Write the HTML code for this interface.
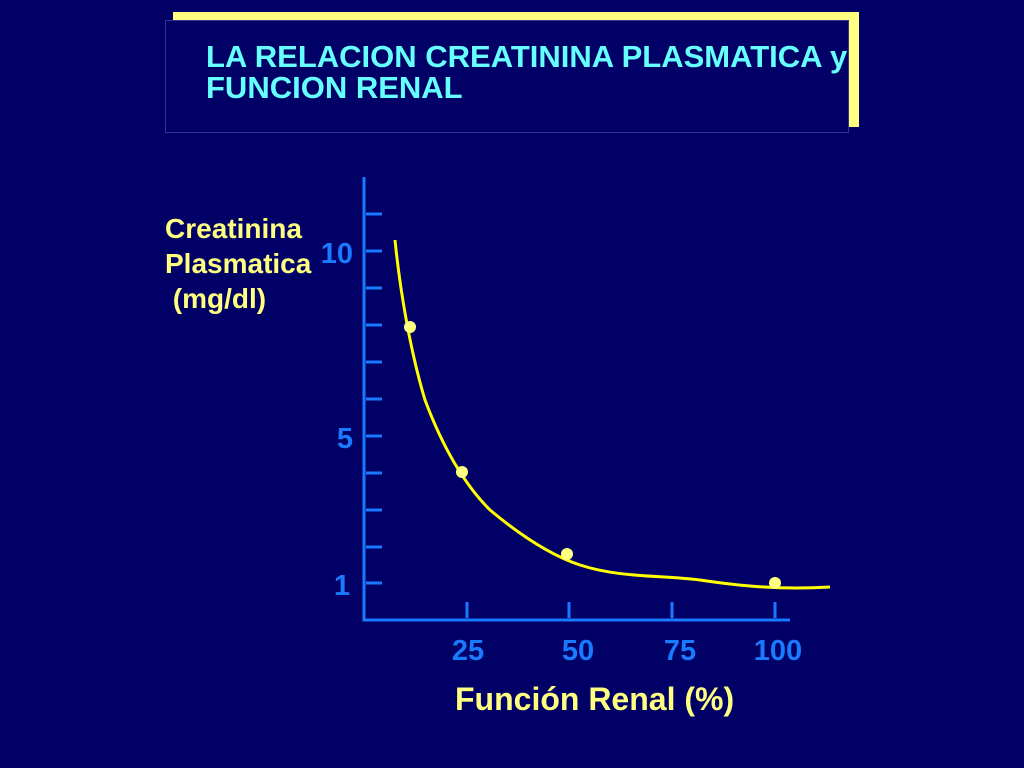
<!DOCTYPE html>
<html><head><meta charset="utf-8"><style>
body{margin:0;width:1024px;height:768px;background:#000066;overflow:hidden;position:relative;font-family:"Liberation Sans",sans-serif;font-weight:bold}
.t{position:absolute;white-space:nowrap}
</style></head><body>
<div style="position:absolute;left:173px;top:12px;width:686px;height:115px;background:#ffff80"></div>
<div style="position:absolute;left:165px;top:20px;width:684px;height:113px;background:#000066;border:1px solid #33338a;box-sizing:border-box"></div>
<div class="t" style="left:206px;top:41px;color:#66ffff;font-size:31px;line-height:31px;transform:scaleX(1.0);transform-origin:0 0">LA RELACION CREATININA PLASMATICA y<br>FUNCION RENAL</div>
<div class="t" style="left:165px;top:211px;color:#ffff80;font-size:28px;line-height:35px">Creatinina<br>Plasmatica<br>&nbsp;(mg/dl)</div>
<svg width="1024" height="768" style="position:absolute;left:0;top:0">
<g stroke="#1a7aff" stroke-width="3" fill="none">
<path d="M364 177V620H790"/>
<path d="M366 214h16M366 251h16M366 288h16M366 325h16M366 362h16M366 399h16M366 436h16M366 473h16M366 510h16M366 547h16M366 583h16"/>
<path d="M467 602v16M569 602v16M672 602v16M775 602v16"/>
</g>
<g fill="#1a7aff" font-family="Liberation Sans,sans-serif" font-weight="bold" font-size="29">
<text x="353" y="263" text-anchor="end">10</text>
<text x="353" y="448" text-anchor="end">5</text>
<text x="350" y="595" text-anchor="end">1</text>
<text x="468" y="660" text-anchor="middle">25</text>
<text x="578" y="660" text-anchor="middle">50</text>
<text x="680" y="660" text-anchor="middle">75</text>
<text x="778" y="660" text-anchor="middle">100</text>
</g>
<path d="M395 240C400 290 410 350 425 400C440 440 460 480 490 510C520 535 550 555 580 565C620 578 660 575 700 580C740 586 780 590 830 587" stroke="#ffff00" stroke-width="3" fill="none"/>
<g fill="#ffff80"><circle cx="410" cy="327" r="6"/><circle cx="462" cy="472" r="6"/><circle cx="567" cy="554" r="6"/><circle cx="775" cy="583" r="6"/></g>
</svg>
<div class="t" style="left:455px;top:681px;color:#ffff80;font-size:32px">Función Renal (%)</div>
</body></html>
